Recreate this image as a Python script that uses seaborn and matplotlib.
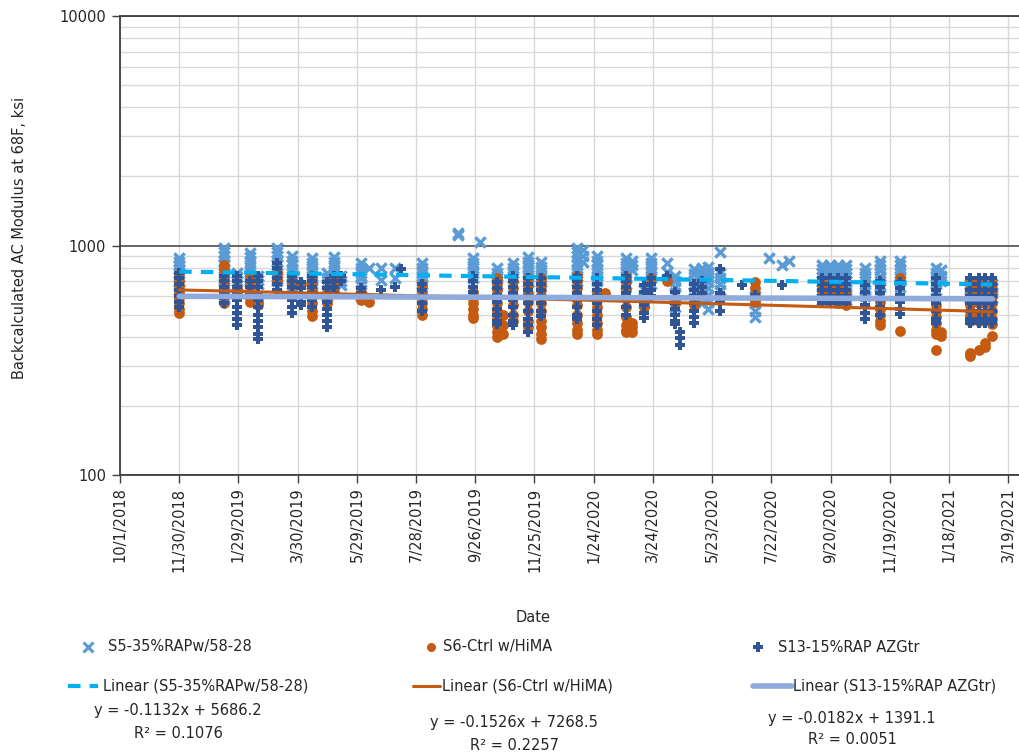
import numpy as np
import pandas as pd
import matplotlib
matplotlib.use("Agg")
import matplotlib.pyplot as plt
from matplotlib.lines import Line2D
from matplotlib.ticker import LogLocator, NullFormatter, FixedLocator, FixedFormatter
import seaborn as sns

# ---------------------------------------------------------------------------
# Data: backcalculated AC modulus (ksi) per FWD test date, one list per date
# ---------------------------------------------------------------------------
series_names = ["S5-35%RAPw/58-28", "S6-Ctrl w/HiMA", "S13-15%RAP AZGtr"]

s5_dates = ["2018-11-30", "2019-01-14", "2019-01-28", "2019-02-10", "2019-02-18",
            "2019-03-09", "2019-03-24", "2019-04-14", "2019-04-29", "2019-05-06",
            "2019-05-13", "2019-06-02", "2019-06-10", "2019-06-22", "2019-07-07",
            "2019-08-03", "2019-09-09", "2019-09-24", "2019-10-01", "2019-10-18",
            "2019-11-03", "2019-11-18", "2019-12-02", "2020-01-07", "2020-01-13",
            "2020-01-27", "2020-02-26", "2020-03-03", "2020-03-15", "2020-03-22",
            "2020-04-07", "2020-04-15", "2020-05-05", "2020-05-13", "2020-05-19",
            "2020-05-31", "2020-07-05", "2020-07-20", "2020-08-02", "2020-08-09",
            "2020-09-11", "2020-09-19", "2020-09-28", "2020-10-06", "2020-10-25",
            "2020-11-09", "2020-11-29", "2021-01-05", "2021-01-10", "2021-02-08",
            "2021-02-17", "2021-02-24", "2021-03-03"]
s5_values = [[880, 850, 820, 790, 760, 730, 700, 670, 640],
             [980, 940, 900, 860, 820, 780, 740, 700, 660, 620, 590],
             [760, 730, 700, 670],
             [930, 890, 850, 810, 770, 730, 690, 650],
             [740, 710, 680],
             [980, 940, 900, 860, 820, 780, 740, 700, 660],
             [900, 860, 820, 780, 740, 700, 660, 630],
             [880, 840, 800, 760, 720, 680, 650],
             [760, 720, 680, 640, 600],
             [890, 850, 810, 770, 730, 690, 650],
             [740, 700, 670],
             [840, 800, 760, 720, 680, 640, 600],
             [795],
             [795, 710],
             [795, 720],
             [840, 800, 760, 720, 680],
             [1130, 1110],
             [880, 840, 800, 760, 720],
             [1040],
             [800, 760, 720, 680],
             [840, 800, 760, 720],
             [890, 850, 810, 770, 730, 690],
             [850, 810, 770, 730, 690],
             [980, 940, 900, 860, 820, 780, 740, 700],
             [960, 900, 850],
             [900, 860, 820, 780, 740, 700, 660],
             [880, 840, 800, 760, 720, 680],
             [860, 820, 780],
             [640, 600, 560],
             [880, 840, 800, 760, 720, 680],
             [840, 770],
             [740, 700, 660, 620, 580, 540],
             [790, 750, 710, 670, 630, 590],
             [800, 760, 720, 680, 640, 600, 560],
             [810, 770, 730, 690, 650, 610, 570, 530],
             [940, 760, 720, 680, 640],
             [600, 560, 520, 490],
             [880],
             [820],
             [860],
             [820, 790, 760, 730, 700, 670, 640, 610, 580],
             [820, 790, 760, 730, 700, 670, 640, 610, 580],
             [820, 790, 760, 730, 700, 670, 640, 610, 580],
             [820, 790, 760, 730, 700, 670, 640, 610, 580],
             [800, 760, 720, 680, 640, 600],
             [860, 820, 780, 740, 700, 660, 620],
             [860, 820, 780, 740, 700, 660],
             [800, 760, 720, 680, 640],
             [780, 740, 700],
             [680, 650, 620, 590],
             [680, 650, 620, 590],
             [680, 650, 620, 590],
             [680, 650, 620, 590]]

s6_dates = ["2018-11-30", "2019-01-14", "2019-01-28", "2019-02-10", "2019-02-18",
            "2019-03-09", "2019-03-24", "2019-04-02", "2019-04-14", "2019-04-29",
            "2019-05-06", "2019-06-02", "2019-06-10", "2019-08-03", "2019-09-24",
            "2019-10-18", "2019-10-24", "2019-11-03", "2019-11-18", "2019-12-02",
            "2020-01-07", "2020-01-27", "2020-02-04", "2020-02-26", "2020-03-03",
            "2020-03-15", "2020-03-22", "2020-04-07", "2020-04-15", "2020-05-05",
            "2020-05-31", "2020-07-05", "2020-09-11", "2020-09-19", "2020-09-28",
            "2020-10-06", "2020-11-09", "2020-11-29", "2021-01-05", "2021-01-10",
            "2021-02-08", "2021-02-17", "2021-02-24", "2021-03-03"]
s6_values = [[750, 710, 670, 630, 590, 560, 530, 510],
             [820, 780, 740, 700, 660, 620, 590, 560],
             [650, 630],
             [740, 700, 660, 620, 590, 565],
             [590, 570, 550],
             [770, 730, 700],
             [700, 670],
             [680],
             [720, 680, 640, 600, 560, 520, 495],
             [620, 590, 560],
             [725, 690, 650],
             [630, 600, 580],
             [565],
             [670, 630, 590, 560, 530, 500],
             [625, 590, 560, 530, 500, 485],
             [720, 680, 640, 600, 560, 520, 480, 445, 420, 400],
             [500, 450, 410],
             [700, 650, 600, 550, 500, 470],
             [720, 670, 620, 570, 520, 470, 440],
             [720, 680, 640, 600, 560, 520, 470, 440, 410, 390],
             [740, 700, 650, 600, 550, 500, 460, 430, 410],
             [620, 580, 540, 500, 460, 430, 410],
             [620],
             [730, 690, 640, 590, 540, 490, 450, 430, 420],
             [460, 440, 420],
             [560, 540],
             [720],
             [700],
             [580, 560],
             [570, 550],
             [610, 590],
             [690, 650, 610, 570],
             [680, 640],
             [660, 620],
             [650, 600, 560],
             [620, 580, 550],
             [565, 530, 500, 470, 450],
             [720, 425],
             [550, 520, 490, 460, 430, 410, 350],
             [420, 405],
             [690, 650, 600, 550, 500, 470, 340, 330],
             [680, 620, 560, 510, 470, 350],
             [660, 610, 560, 510, 375, 360],
             [680, 640, 600, 560, 520, 480, 455, 405]]

s13_dates = ["2018-11-30", "2019-01-14", "2019-01-28", "2019-02-10", "2019-02-18",
             "2019-03-09", "2019-03-24", "2019-04-02", "2019-04-14", "2019-04-29",
             "2019-05-06", "2019-05-13", "2019-06-02", "2019-06-22", "2019-07-07",
             "2019-07-13", "2019-08-03", "2019-09-24", "2019-10-18", "2019-11-03",
             "2019-11-18", "2019-12-02", "2020-01-07", "2020-01-27", "2020-02-26",
             "2020-03-15", "2020-03-22", "2020-04-07", "2020-04-15", "2020-04-20",
             "2020-05-05", "2020-05-13", "2020-05-31", "2020-06-22", "2020-07-05",
             "2020-08-02", "2020-09-11", "2020-09-19", "2020-09-28", "2020-10-06",
             "2020-10-25", "2020-11-09", "2020-11-29", "2021-01-05", "2021-02-08",
             "2021-02-17", "2021-02-24", "2021-03-03"]
s13_values = [[760, 720, 680, 640, 600, 570, 540],
              [740, 700, 660, 620, 590, 560],
              [740, 700, 660, 620, 580, 540, 510, 480, 450],
              [700, 660, 620],
              [740, 700, 660, 620, 580, 540, 500, 470, 440, 410, 390],
              [840, 800, 760, 720, 680, 640],
              [740, 700, 660, 620, 580, 540, 510],
              [690, 650, 610, 570, 550],
              [740, 700, 660, 620, 580, 540],
              [690, 650, 610, 570, 530, 500, 470, 440],
              [740, 700, 660, 620],
              [740, 700],
              [650, 620],
              [640],
              [660],
              [790],
              [680, 640, 600, 560, 520],
              [740, 700, 660, 630],
              [690, 650, 610, 570, 530, 500, 470, 455],
              [740, 700, 660, 620, 580, 540, 500, 470, 450],
              [720, 680, 640, 600, 560, 520, 480, 450, 420],
              [720, 680, 640, 600, 560, 520, 495],
              [740, 700, 660, 620, 580, 540, 500, 480],
              [720, 680, 640, 600, 560, 520, 480, 450],
              [740, 700, 660, 620, 580, 540, 500],
              [670, 630, 590, 550, 510, 485],
              [720, 680, 640, 600],
              [740],
              [625, 590, 560, 530, 500, 470, 455],
              [420, 395, 370],
              [680, 640, 600, 560, 520, 490, 460],
              [700, 660, 620],
              [790, 620, 590, 560, 520],
              [670],
              [610],
              [670],
              [720, 680, 640, 600, 560],
              [720, 680, 640, 600, 560],
              [720, 680, 640, 600, 560],
              [720, 680, 640, 600, 560],
              [670, 630, 590, 550, 510, 480],
              [700, 660, 620, 580, 540, 500],
              [690, 650, 610, 570, 530, 505],
              [720, 680, 640, 600, 560, 520, 480, 460],
              [720, 680, 640, 600, 560, 520, 480, 460],
              [720, 680, 640, 600, 560, 520, 480, 460],
              [720, 680, 640, 600, 560, 520, 480, 460],
              [720, 680, 640, 600, 560, 520, 480, 460]]

# Excel linear trendlines (x = Excel date serial)
trend_slopes = [-0.1132, -0.1526, -0.0182]
trend_intercepts = [5686.2, 7268.5, 1391.1]
trend_r2 = [0.1076, 0.2257, 0.0051]

x_tick_labels = ["10/1/2018", "11/30/2018", "1/29/2019", "3/30/2019", "5/29/2019",
                 "7/28/2019", "9/26/2019", "11/25/2019", "1/24/2020", "3/24/2020",
                 "5/23/2020", "7/22/2020", "9/20/2020", "11/19/2020", "1/18/2021",
                 "3/19/2021"]
y_tick_values = [100, 1000, 10000]

# ---------------------------------------------------------------------------
EXCEL_EPOCH = pd.Timestamp("1899-12-30")


def to_serial(d):
    return (pd.Timestamp(d) - EXCEL_EPOCH).days


def long_frame(name, dates, values):
    rows = [(name, to_serial(d), v) for d, vals in zip(dates, values) for v in vals]
    return pd.DataFrame(rows, columns=["series", "serial", "modulus"])


frames = [long_frame(series_names[0], s5_dates, s5_values),
          long_frame(series_names[1], s6_dates, s6_values),
          long_frame(series_names[2], s13_dates, s13_values)]

point_colors = ["#5B9BD5", "#C55A11", "#2F5597"]
trend_colors = ["#00B0F0", "#C55A11", "#8FAADC"]
trend_widths = [3.0, 2.2, 4.0]
trend_styles = [(0, (3, 2.2)), "-", "-"]

sns.set_theme(style="white")
plt.rcParams["font.family"] = ["DejaVu Sans"]

W, H = 1019, 755
fig = plt.figure(figsize=(W / 100, H / 100), dpi=100)
ax = fig.add_axes([120 / W, 1 - 475 / H, (W - 120) / W, (475 - 16) / H])

x0 = to_serial("2018-10-01")
ax.set_xlim(x0, x0 + 911)
ax.set_yscale("log")
ax.set_ylim(100, 10000)

# grid: light minor/vertical lines, dark decade lines
ax.yaxis.set_minor_locator(LogLocator(base=10, subs=np.arange(2, 10)))
ax.yaxis.set_minor_formatter(NullFormatter())
ax.grid(False)
ax.yaxis.grid(True, which="minor", color="#D9D9D9", lw=1.0, zorder=0)
ax.yaxis.grid(True, which="major", color="#595959", lw=1.3, zorder=0)
ax.xaxis.grid(True, which="major", color="#D9D9D9", lw=1.0, zorder=0)
ax.set_axisbelow(True)

# scatter points for each section
sns.scatterplot(data=frames[0], x="serial", y="modulus", marker="x",
                color=point_colors[0], s=55, linewidth=2.4, ax=ax, zorder=3)
sns.scatterplot(data=frames[1], x="serial", y="modulus", marker="o",
                color=point_colors[1], s=60, linewidth=0, ax=ax, zorder=4)
sns.scatterplot(data=frames[2], x="serial", y="modulus", marker="P",
                color=point_colors[2], s=55, linewidth=0, ax=ax, zorder=5)

# linear trendlines from the fitted equations, over each series' date span
for i, df in enumerate(frames):
    xs = np.linspace(df["serial"].min(), df["serial"].max(), 60)
    trend = pd.DataFrame({"serial": xs,
                          "modulus": trend_slopes[i] * xs + trend_intercepts[i]})
    sns.lineplot(data=trend, x="serial", y="modulus", color=trend_colors[i],
                 lw=trend_widths[i], linestyle=trend_styles[i], ax=ax, zorder=6)

tick_pos = [to_serial(pd.to_datetime(t, format="%m/%d/%Y")) for t in x_tick_labels]
ax.xaxis.set_major_locator(FixedLocator(tick_pos))
ax.xaxis.set_major_formatter(FixedFormatter(x_tick_labels))
ax.yaxis.set_major_locator(FixedLocator(y_tick_values))
ax.yaxis.set_major_formatter(FixedFormatter([str(v) for v in y_tick_values]))
ax.tick_params(axis="x", which="major", direction="out", length=6, width=1,
               color="#404040", labelsize=10.5, labelcolor="#262626",
               labelrotation=90, pad=3, bottom=True)
ax.tick_params(axis="y", which="major", direction="out", length=6, width=1,
               color="#404040", labelsize=10.5, labelcolor="#262626", pad=4, left=True)
ax.tick_params(axis="y", which="minor", length=0)

for side in ["left", "bottom", "top"]:
    ax.spines[side].set_visible(True)
    ax.spines[side].set_color("#404040")
    ax.spines[side].set_linewidth(1.3)
ax.spines["right"].set_visible(False)

ax.set_xlabel("")
ax.set_ylabel("")
fig.text(533 / W, 1 - 618 / H, "Date", ha="center", va="center",
         fontsize=10.5, color="#262626")
fig.text(20 / W, 1 - 238 / H, "Backcalculated AC Modulus at 68F, ksi",
         rotation=90, ha="center", va="center", fontsize=10.5, color="#262626")

# legend below the chart
def fx(px):
    return px / W


def fy(py):
    return 1 - py / H


legend_font = dict(fontsize=10.5, color="#262626", va="center", ha="left")
marker_specs = [dict(marker="x", ms=7, mew=2.2), dict(marker="o", ms=6.5, mew=0),
                dict(marker="P", ms=6.5, mew=0)]
marker_x = [88, 431, 758]
label_x = [108, 443, 778]
line_span = [(68, 98), (413, 440), (753, 792)]
line_label_x = [103, 442, 793]
eq_center = [178, 514, 852]
eq_y = [711, 723, 718]

for i, name in enumerate(series_names):
    fig.add_artist(Line2D([fx(marker_x[i])], [fy(647)], ls="none",
                          color=point_colors[i], transform=fig.transFigure,
                          **marker_specs[i]))
    fig.text(fx(label_x[i]), fy(647), name, **legend_font)
    a, b = line_span[i]
    fig.add_artist(Line2D([fx(a), fx(b)], [fy(686), fy(686)], color=trend_colors[i],
                          lw=trend_widths[i], ls=trend_styles[i],
                          transform=fig.transFigure))
    fig.text(fx(line_label_x[i]), fy(686), f"Linear ({name})", **legend_font)
    sign = "-" if trend_slopes[i] < 0 else ""
    fig.text(fx(eq_center[i]), fy(eq_y[i]),
             f"y = {sign}{abs(trend_slopes[i]):.4f}x + {trend_intercepts[i]:.1f}",
             fontsize=10.5, color="#262626", ha="center", va="center")
    fig.text(fx(eq_center[i]), fy(eq_y[i] + 22), f"R² = {trend_r2[i]:.4f}",
             fontsize=10.5, color="#262626", ha="center", va="center")

fig.savefig("out.png", dpi=100, facecolor="white")
